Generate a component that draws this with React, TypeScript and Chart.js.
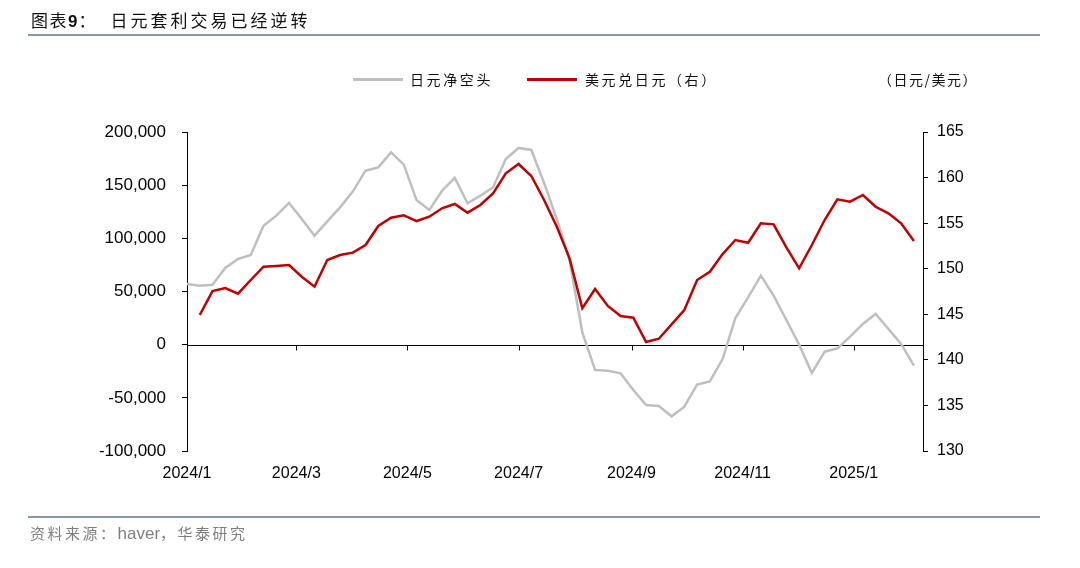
import React, { useEffect, useRef } from "react";
import { Chart, registerables } from "chart.js";

Chart.register(...registerables);

// Weekly observation dates
const weekDates = [
  "2024-01-02", "2024-01-09", "2024-01-16", "2024-01-23", "2024-01-30",
  "2024-02-06", "2024-02-13", "2024-02-20", "2024-02-27",
  "2024-03-05", "2024-03-12", "2024-03-19", "2024-03-26",
  "2024-04-02", "2024-04-09", "2024-04-16", "2024-04-23", "2024-04-30",
  "2024-05-07", "2024-05-14", "2024-05-21", "2024-05-28",
  "2024-06-04", "2024-06-11", "2024-06-18", "2024-06-25",
  "2024-07-02", "2024-07-09", "2024-07-16", "2024-07-23", "2024-07-30",
  "2024-08-06", "2024-08-13", "2024-08-20", "2024-08-27",
  "2024-09-03", "2024-09-10", "2024-09-17", "2024-09-24",
  "2024-10-01", "2024-10-08", "2024-10-15", "2024-10-22", "2024-10-29",
  "2024-11-05", "2024-11-12", "2024-11-19", "2024-11-26",
  "2024-12-03", "2024-12-10", "2024-12-17", "2024-12-24", "2024-12-31",
  "2025-01-07", "2025-01-14", "2025-01-21", "2025-01-28", "2025-02-04",
];

// 日元净空头 (contracts, left axis)
const jpyNetShort = [
  57100, 55500, 56400, 72100, 80600,
  84400, 111900, 121300, 133300,
  118200, 102500, 116000, 129100,
  143900, 163600, 166700, 180800, 169300,
  136000, 126700, 144800, 156800,
  132900, 140100, 147900, 174600,
  185000, 183100, 152000, 118200, 79000,
  11600, -23800, -24500, -27000,
  -42600, -56700, -57700, -67400,
  -58300, -37600, -34500, -13500, 25100,
  44500, 64900, 46100, 23200,
  0, -26600, -6600, -3500, 7500,
  19500, 28900, 14800, 700, -19700,
];

// 美元兑日元 (right axis)
const usdJpy = [
  null, 144.92, 147.55, 147.88, 147.26,
  148.76, 150.22, 150.3, 150.41,
  149.12, 148.03, 150.96, 151.5,
  151.76, 152.6, 154.69, 155.6, 155.86,
  155.23, 155.71, 156.63, 157.1,
  156.15, 156.99, 158.27, 160.47,
  161.49, 160.17, 157.54, 154.61, 151.14,
  145.66, 147.77, 145.91, 144.81,
  144.63, 141.96, 142.32, 143.9,
  145.47, 148.76, 149.67, 151.61, 153.15,
  152.85, 154.98, 154.87, 152.35,
  150.04, 152.6, 155.34, 157.62, 157.36,
  158.09, 156.8, 156.08, 154.98, 153.04,
];

const xTickDates = ["2024-01-02", "2024-03-02", "2024-05-02", "2024-07-02", "2024-09-02", "2024-11-02", "2025-01-02"];
const xTickLabels = ["2024/1", "2024/3", "2024/5", "2024/7", "2024/9", "2024/11", "2025/1"];
const xEndDate = "2025-02-09";

const leftMin = -100000;
const leftMax = 200000;
const leftStep = 50000;
const rightMin = 130;
const rightMax = 165;
const rightStep = 5;

const DAY = 86400000;
const dayOffset = (d: string) => Math.round((Date.parse(d) - Date.parse(weekDates[0])) / DAY);

const LATIN = '"Liberation Sans", Arial, sans-serif';
const CJK = '"Noto Sans CJK SC", "Noto Sans", sans-serif';

const zeroLinePlugin = {
  id: "zeroLine",
  beforeDatasetsDraw(chart: any) {
    const { ctx, chartArea, scales } = chart;
    const y = Math.round(scales.y.getPixelForValue(0)) + 0.5;
    ctx.save();
    ctx.strokeStyle = "#000";
    ctx.lineWidth = 1;
    ctx.beginPath();
    ctx.moveTo(chartArea.left, y);
    ctx.lineTo(chartArea.right, y);
    scales.x.ticks.forEach((t: any) => {
      const x = Math.round(scales.x.getPixelForValue(t.value)) + 0.5;
      ctx.moveTo(x, y);
      ctx.lineTo(x, y + 5);
    });
    ctx.stroke();
    ctx.restore();
  },
};

function ChartCanvas() {
  const ref = useRef<HTMLCanvasElement | null>(null);
  useEffect(() => {
    if (!ref.current) return;
    const xs = weekDates.map(dayOffset);
    const chart = new Chart(ref.current, {
      type: "line",
      data: {
        datasets: [
          {
            label: "美元兑日元（右）",
            data: usdJpy.map((v, i) => ({ x: xs[i], y: v as any })),
            borderColor: "#C00000",
            borderWidth: 2.5,
            pointRadius: 0,
            tension: 0,
            yAxisID: "y1",
            spanGaps: false,
          },
          {
            label: "日元净空头",
            data: jpyNetShort.map((v, i) => ({ x: xs[i], y: v })),
            borderColor: "#BFBFBF",
            borderWidth: 2.5,
            pointRadius: 0,
            tension: 0,
            yAxisID: "y",
          },
        ],
      },
      options: {
        responsive: false,
        animation: false,
        events: [],
        layout: { padding: { top: 132, left: 0, right: 0, bottom: 0 } },
        plugins: { legend: { display: false }, tooltip: { enabled: false } },
        scales: {
          x: {
            type: "linear",
            position: "bottom",
            min: 0,
            max: dayOffset(xEndDate),
            grid: { display: false, drawTicks: false },
            border: { display: false },
            afterBuildTicks: (scale: any) => {
              scale.ticks = xTickDates.map((d) => ({ value: dayOffset(d) }));
            },
            afterFit: (scale: any) => {
              scale.height = 117;
            },
            ticks: {
              autoSkip: false,
              maxRotation: 0,
              padding: 13,
              color: "#000",
              font: { family: LATIN, size: 16 },
              callback: (_v: any, i: number) => xTickLabels[i],
            },
          },
          y: {
            position: "left",
            min: leftMin,
            max: leftMax,
            afterFit: (scale: any) => {
              scale.width = 187;
            },
            border: { display: true, color: "#000", width: 1 },
            grid: { drawOnChartArea: false, drawTicks: true, tickLength: 5, color: "#000" },
            ticks: {
              stepSize: leftStep,
              padding: 16,
              color: "#000",
              font: { family: LATIN, size: 17 },
              callback: (v: any) => Number(v).toLocaleString("en-US"),
            },
          },
          y1: {
            position: "right",
            min: rightMin,
            max: rightMax,
            afterFit: (scale: any) => {
              scale.width = 157;
            },
            border: { display: true, color: "#000", width: 1 },
            grid: { drawOnChartArea: false, drawTicks: true, tickLength: 5, color: "#000" },
            ticks: {
              stepSize: rightStep,
              padding: 9,
              color: "#000",
              font: { family: LATIN, size: 16 },
            },
          },
        },
      },
      plugins: [zeroLinePlugin],
    } as any);
    return () => chart.destroy();
  }, []);
  return (
    <canvas
      ref={ref}
      width={1080}
      height={568}
      style={{ position: "absolute", left: 0, top: 0, width: 1080, height: 568 }}
    />
  );
}

export default function App() {
  const abs = (s: React.CSSProperties): React.CSSProperties => ({ position: "absolute", ...s });
  return (
    <div style={{ position: "absolute", left: 0, top: 0, width: 1080, height: 568, background: "#fff", overflow: "hidden" }}>
      <ChartCanvas />
      <div style={abs({ left: 31, top: 9, lineHeight: "22px", fontSize: 17, fontFamily: CJK, color: "#111", letterSpacing: 3, whiteSpace: "nowrap" })}>
        <span style={{ letterSpacing: 1.5 }}>图表</span>
        <span style={{ fontFamily: LATIN, fontWeight: "bold", fontSize: 17, letterSpacing: 1 }}>9</span>
        <span>：</span>
        <span style={{ marginLeft: 12 }}>日元套利交易已经逆转</span>
      </div>
      <div style={abs({ left: 28, top: 34, width: 1012, height: 2, background: "#8497B0" })} />

      <div style={abs({ left: 353, top: 78, width: 50, height: 3, background: "#BFBFBF" })} />
      <div style={abs({ left: 410, top: 69, lineHeight: "20px", fontSize: 14, fontFamily: CJK, color: "#111", letterSpacing: 2.6, whiteSpace: "nowrap" })}>日元净空头</div>
      <div style={abs({ left: 527, top: 78, width: 50, height: 3, background: "#C00000" })} />
      <div style={abs({ left: 585, top: 69, lineHeight: "20px", fontSize: 14, fontFamily: CJK, color: "#111", letterSpacing: 2.6, whiteSpace: "nowrap" })}>美元兑日元（右）</div>
      <div style={abs({ left: 878, top: 69, lineHeight: "20px", fontSize: 14, fontFamily: CJK, color: "#111", letterSpacing: 1.5, whiteSpace: "nowrap" })}>（日元/美元）</div>

      <div style={abs({ left: 28, top: 516, width: 1012, height: 2, background: "#8497B0" })} />
      <div style={abs({ left: 30, top: 523, lineHeight: "20px", fontSize: 15, fontFamily: CJK, color: "#7F7F7F", letterSpacing: 2.5, whiteSpace: "nowrap" })}>
        资料来源：<span style={{ fontFamily: LATIN, fontSize: 17, letterSpacing: 0 }}>haver</span>，华泰研究
      </div>
    </div>
  );
}
